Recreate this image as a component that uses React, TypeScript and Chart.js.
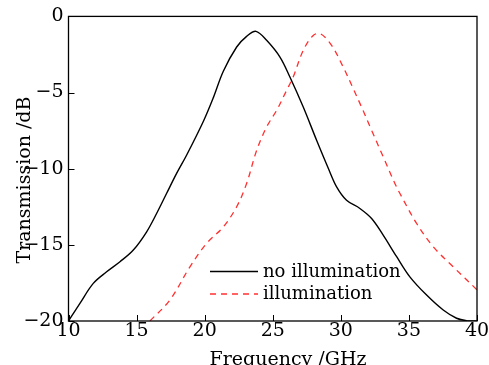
import React, { useEffect, useRef } from "react";
import { Chart, registerables } from "chart.js";
Chart.register(...registerables);

const freqNoIllum = [10, 10.84, 11.82, 12.8, 13.78, 14.76, 15.74, 16.47, 17.2, 17.94, 18.68, 19.9, 20.63, 21.37, 22.35, 23.08, 23.77, 24.55, 25.53, 26.26, 27.24, 28.22, 29.07, 29.69, 30.42, 31.4, 32.26, 33.11, 34.1, 35.07, 36.3, 37.52, 38.5, 39.24, 40];
const dbNoIllum = [-20, -18.84, -17.53, -16.77, -16.11, -15.34, -14.14, -12.94, -11.63, -10.31, -9.1, -6.9, -5.35, -3.6, -2.01, -1.31, -0.98, -1.57, -2.67, -3.98, -5.95, -8.13, -9.95, -11.19, -12.07, -12.61, -13.27, -14.36, -15.78, -17.1, -18.3, -19.28, -19.82, -19.98, -20];

const freqIllum = [15.98, 17.45, 18.92, 20.15, 21.37, 22.35, 23.08, 23.82, 24.55, 25.29, 26.02, 26.5, 27.24, 27.97, 28.5, 29.32, 30.17, 30.91, 31.52, 32.26, 33.11, 33.97, 34.34, 35.57, 36.79, 38.25, 40];
const dbIllum = [-20, -18.62, -16.44, -14.9, -13.82, -12.5, -10.97, -8.79, -7.26, -6.16, -4.85, -3.98, -2.23, -1.25, -1.14, -1.9, -3.32, -4.74, -5.95, -7.48, -9.22, -10.97, -11.63, -13.6, -15.13, -16.44, -17.95];

const xTicks = [10, 15, 20, 25, 30, 35, 40];
const yTicks = [0, -5, -10, -15, -20];
const seriesLabels = ["no illumination", "illumination"];
const xTitle = "Frequency /GHz";
const yTitle = "Transmission /dB";

const FONT = "'DejaVu Serif', serif";
const RED = "#ff3030";

export default function App() {
  const ref = useRef<HTMLCanvasElement | null>(null);
  useEffect(() => {
    document.body.style.margin = "0";
    const canvas = ref.current!;
    const framePlugin = {
      id: "frame",
      afterDraw(chart: any) {
        const { ctx, chartArea: a, scales } = chart;
        ctx.save();
        ctx.strokeStyle = "#000";
        ctx.lineWidth = 1.3;
        ctx.strokeRect(a.left, a.top, a.right - a.left, a.bottom - a.top);
        ctx.lineWidth = 1;
        ctx.beginPath();
        for (const t of xTicks) {
          const x = Math.round(scales.x.getPixelForValue(t)) + 0.5;
          ctx.moveTo(x, a.bottom);
          ctx.lineTo(x, a.bottom - 6);
        }
        for (const t of yTicks) {
          const y = Math.round(scales.y.getPixelForValue(t)) + 0.5;
          ctx.moveTo(a.left, y);
          ctx.lineTo(a.left + 6, y);
        }
        ctx.stroke();
        // legend
        const lx0 = 210, lx1 = 258, tx = 263;
        const ly = [271.5, 294];
        const tb = [277, 299];
        ctx.font = `18px ${FONT}`;
        ctx.textBaseline = "alphabetic";
        ctx.textAlign = "left";
        ctx.fillStyle = "#000";
        ctx.lineWidth = 1.4;
        ctx.strokeStyle = "#000";
        ctx.beginPath();
        ctx.moveTo(lx0, ly[0]);
        ctx.lineTo(lx1, ly[0]);
        ctx.stroke();
        ctx.fillText(seriesLabels[0], tx, tb[0]);
        ctx.strokeStyle = RED;
        ctx.lineWidth = 1.3;
        ctx.setLineDash([6, 5]);
        ctx.beginPath();
        ctx.moveTo(lx0, ly[1]);
        ctx.lineTo(lx1, ly[1]);
        ctx.stroke();
        ctx.setLineDash([]);
        ctx.fillText(seriesLabels[1], tx, tb[1]);
        // axis titles
        ctx.font = `19px ${FONT}`;
        ctx.textAlign = "center";
        ctx.fillText(xTitle, 288, 365);
        ctx.translate(30, 180);
        ctx.rotate(-Math.PI / 2);
        ctx.fillText(yTitle, 0, 0);
        ctx.restore();
      },
    };
    const chart = new Chart(canvas, {
      type: "line",
      data: {
        datasets: [
          {
            label: seriesLabels[0],
            data: freqNoIllum.map((f, i) => ({ x: f, y: dbNoIllum[i] })),
            borderColor: "#000",
            borderWidth: 1.4,
            pointRadius: 0,
            tension: 0.35,
          },
          {
            label: seriesLabels[1],
            data: freqIllum.map((f, i) => ({ x: f, y: dbIllum[i] })),
            borderColor: RED,
            borderWidth: 1.3,
            borderDash: [6, 5],
            pointRadius: 0,
            tension: 0.35,
          },
        ],
      },
      options: {
        animation: false,
        responsive: false,
        maintainAspectRatio: false,
        layout: { padding: { top: 16, right: 12, left: 0, bottom: 0 } },
        plugins: { legend: { display: false }, tooltip: { enabled: false } },
        scales: {
          x: {
            type: "linear",
            min: 10,
            max: 40,
            afterBuildTicks: (s: any) => { s.ticks = xTicks.map((v) => ({ value: v })); },
            afterFit: (s: any) => { s.height = 44; },
            grid: { display: false, drawTicks: false },
            border: { display: false },
            ticks: { color: "#000", font: { family: FONT, size: 19 }, padding: -1, maxRotation: 0 },
          },
          y: {
            type: "linear",
            min: -20,
            max: 0,
            afterBuildTicks: (s: any) => { s.ticks = yTicks.map((v) => ({ value: v })); },
            afterFit: (s: any) => { s.width = 68.5; },
            grid: { display: false, drawTicks: false },
            border: { display: false },
            ticks: {
              color: "#000",
              font: { family: FONT, size: 19 },
              padding: 5,
              callback: (v: any) => (v < 0 ? "\u2212" + Math.abs(v) : String(v)),
            },
          },
        },
      },
      plugins: [framePlugin],
    } as any);
    return () => chart.destroy();
  }, []);
  return <canvas ref={ref} width={489} height={365} style={{ display: "block" }} />;
}
